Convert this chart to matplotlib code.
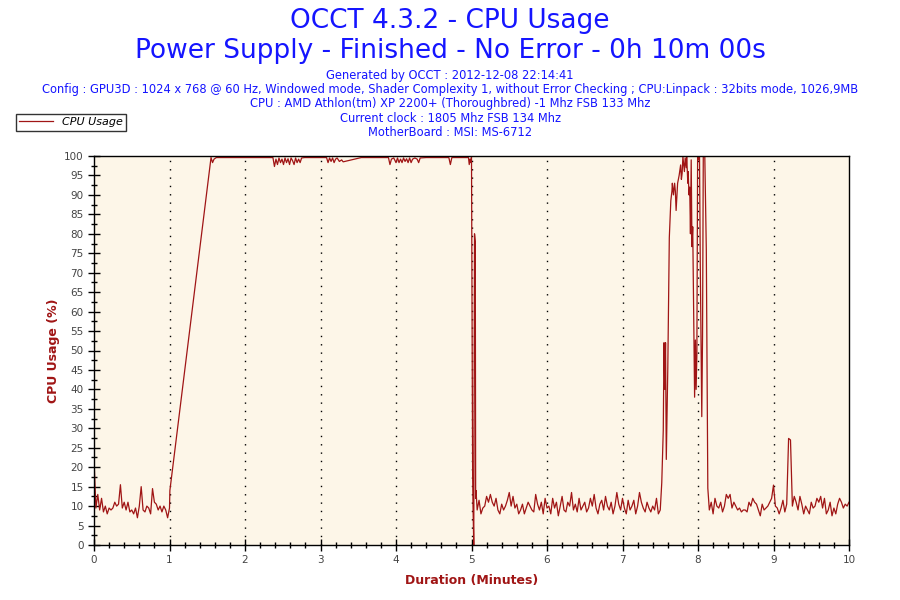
import numpy as np
import matplotlib
matplotlib.use("Agg")
import matplotlib.pyplot as plt
from matplotlib.ticker import MultipleLocator

# idle before the test, one sample every 0.025 min from 0.0 to 1.0
idle_before = [22, 9.5, 13, 9, 12, 8.5, 10, 8, 9.5, 9,
               9.5, 11, 10, 10.5, 15.5, 9.5, 11, 9, 11, 8.5,
               9, 8, 9.5, 7, 10, 15, 9, 8.5, 10, 9.5,
               8, 14.5, 11, 10.5, 9, 10, 8.5, 10, 9, 7, 9.5]

# ramp and full-load plateau (minutes, %)
load_minutes = [1.005, 1.55, 1.57, 1.59, 1.62, 2.37,
                2.39, 2.41, 2.43, 2.45, 2.47, 2.49, 2.51, 2.53, 2.55, 2.57,
                2.59, 2.61, 2.63, 2.65, 2.67, 2.69, 2.71, 2.73, 2.75, 2.79,
                3.08, 3.10, 3.12, 3.14, 3.16, 3.18, 3.20, 3.22, 3.25, 3.28,
                3.30, 3.54, 3.90, 3.92, 3.94, 3.97, 4.00, 4.02, 4.04, 4.06,
                4.08, 4.10, 4.12, 4.14, 4.16, 4.18, 4.20, 4.22, 4.25, 4.28,
                4.30, 4.32, 4.40, 4.70, 4.72, 4.74, 4.96, 4.97, 4.98, 4.99,
                5.00, 5.005, 5.01, 5.015, 5.02, 5.03, 5.04, 5.05, 5.055, 5.06]
load_usage = [14, 99.6, 98.3, 99.2, 99.6, 99.6,
              97.3, 99.2, 97.8, 99.5, 98.3, 99.2, 97.8, 99.5, 98.3, 99.3,
              97.8, 99.5, 98.8, 97.8, 99.5, 98.3, 99.2, 98.3, 99.5, 99.6,
              99.6, 98.3, 99.5, 98.6, 99.5, 98.3, 99.2, 99.5, 98.6, 99.0,
              98.5, 99.6, 99.6, 97.8, 99.2, 99.5, 98.3, 99.5, 98.3, 99.2,
              98.3, 99.5, 98.6, 99.3, 98.3, 99.5, 98.3, 99.2, 99.5, 99.2,
              98.3, 99.5, 99.6, 99.6, 97.8, 99.6, 99.6, 97.8, 99.2, 98.3,
              99.8, 73, 42, 18, 10, 0, 80, 78, 12, 14]

# idle after the test, every 0.025 min from 5.075 to 7.5
idle_middle = [9, 11.5, 8, 9.5, 10, 12.5, 11, 13, 11, 10,
               12, 9, 8, 10.5, 9, 10, 11.5, 13.5, 10, 12.5,
               9.5, 10.5, 8, 9, 10.5, 8, 9.5, 11, 10, 9,
               8.5, 13, 10.5, 9, 11, 8, 12, 9.5, 10, 8,
               12, 9.5, 11, 7.5, 10, 12.5, 9, 8.5, 11, 10,
               13.5, 9, 10.5, 8.5, 12, 9, 10, 11, 8.5, 9.5,
               12, 10, 13, 9.5, 8, 10.5, 11.5, 9, 12.5, 10,
               9, 11, 8, 10, 13.5, 10.5, 9, 12, 9.5, 8,
               11.5, 9, 10, 11.5, 8, 10, 13.5, 11, 9.5, 8.5,
               11, 9.5, 8.5, 10, 9, 12, 8, 9]

# burst around minute 8
burst_minutes = [7.52, 7.54, 7.55, 7.56, 7.57, 7.58, 7.60, 7.62, 7.64, 7.655,
                 7.66, 7.675, 7.69, 7.70, 7.71, 7.73, 7.75, 7.77, 7.78, 7.79,
                 7.80, 7.82, 7.83, 7.845, 7.85, 7.865, 7.87, 7.88, 7.89, 7.90,
                 7.91, 7.92, 7.93, 7.945, 7.955, 7.965, 7.975, 7.985, 7.995, 8.01,
                 8.02, 8.03, 8.04, 8.05, 8.06, 8.07, 8.09, 8.11, 8.13]
burst_usage = [16, 29.5, 52, 40, 52, 22, 45.5, 79, 88.5, 91,
               93, 90, 93, 91, 86, 93, 95, 97.7, 94, 95.6,
               99.8, 96, 99.5, 97, 100, 93, 96, 90, 92, 80,
               99, 76.7, 81.8, 55, 38, 52.7, 40, 49, 100, 99,
               100, 72.5, 52, 33, 53.5, 100, 100, 76, 14.6]

# idle to the end, every 0.025 min from 8.15 to 10.0
idle_end = [9, 11, 8, 12, 10, 9.5, 11, 8.5, 10, 13,
            12, 13, 9.5, 11, 10, 9, 9.5, 8.5, 9, 9,
            8.5, 11, 10, 12, 11, 10.5, 9, 7.5, 10.5, 9,
            9.5, 10, 11, 12, 15.4, 10, 9.5, 8, 9.5, 11.5,
            8.5, 10.5, 27.4, 27, 10, 12.5, 11, 9, 12.5, 10.5,
            8, 10, 9, 8, 11, 9.5, 10, 12, 11, 12.5,
            9.5, 12, 8, 9, 11, 7.5, 9.5, 8, 10.5, 12,
            11, 9.5, 10.5, 10, 11]

step = 0.025
t_before = np.arange(len(idle_before)) * step
t_middle = 5.075 + np.arange(len(idle_middle)) * step
t_end = 8.15 + np.arange(len(idle_end)) * step

minutes = np.concatenate([t_before, load_minutes, t_middle, burst_minutes, t_end])
usage = np.concatenate([idle_before, load_usage, idle_middle, burst_usage, idle_end])

red = "#a01515"
blue = "#1515ff"

fig = plt.figure(figsize=(9, 6), dpi=100)
ax = fig.add_axes([94 / 900, 1 - 545 / 600, 755 / 900, 389 / 600])
ax.set_facecolor("#fdf6e8")

line, = ax.plot(minutes, usage, color=red, linewidth=0.9, label="CPU Usage")

ax.set_xlim(0, 10)
ax.set_ylim(0, 100)
ax.xaxis.set_major_locator(MultipleLocator(1))
ax.xaxis.set_minor_locator(MultipleLocator(0.2))
ax.yaxis.set_major_locator(MultipleLocator(5))
ax.yaxis.set_minor_locator(MultipleLocator(2.5))
ax.tick_params(which="major", direction="inout", length=9, width=1, labelsize=7.5,
               labelcolor="#444444", pad=3)
ax.tick_params(which="minor", direction="inout", length=5, width=1)
ax.tick_params(top=False, right=False, which="both")

for x in range(1, 10):
    ax.axvline(x, color="black", linewidth=1, linestyle=(0, (1, 5)), zorder=1)

for s in ax.spines.values():
    s.set_color("black")
    s.set_linewidth(1)

ax.set_xlabel("Duration (Minutes)", color=red, fontweight="bold", fontsize=9, labelpad=6)
ax.set_ylabel("CPU Usage (%)", color=red, fontweight="bold", fontsize=9, labelpad=3)

fig.text(0.5, 1 - 21 / 600, "OCCT 4.3.2 - CPU Usage", ha="center", va="center",
         color=blue, fontsize=19)
fig.text(0.5, 1 - 51 / 600, "Power Supply - Finished - No Error - 0h 10m 00s",
         ha="center", va="center", color=blue, fontsize=19)

info_lines = [
    "Generated by OCCT : 2012-12-08 22:14:41",
    "Config : GPU3D : 1024 x 768 @ 60 Hz, Windowed mode, Shader Complexity 1, "
    "without Error Checking ; CPU:Linpack : 32bits mode, 1026,9MB",
    "CPU : AMD Athlon(tm) XP 2200+ (Thoroughbred) -1 Mhz FSB 133 Mhz",
    "Current clock : 1805 Mhz FSB 134 Mhz",
    "MotherBoard : MSI: MS-6712",
]
for i, txt in enumerate(info_lines):
    fig.text(0.5, 1 - (76 + i * 14) / 600, txt, ha="center", va="center",
             color=blue, fontsize=8.3)

leg = fig.legend(handles=[line], loc="upper left",
                 bbox_to_anchor=(16 / 900, 1 - 114 / 600),
                 prop={"style": "italic", "size": 8}, frameon=True, fancybox=False,
                 borderpad=0.3, handlelength=3.0, handletextpad=0.8, borderaxespad=0)
leg.get_frame().set_edgecolor("black")
leg.get_frame().set_linewidth(1)

fig.savefig("out.png", dpi=100)
